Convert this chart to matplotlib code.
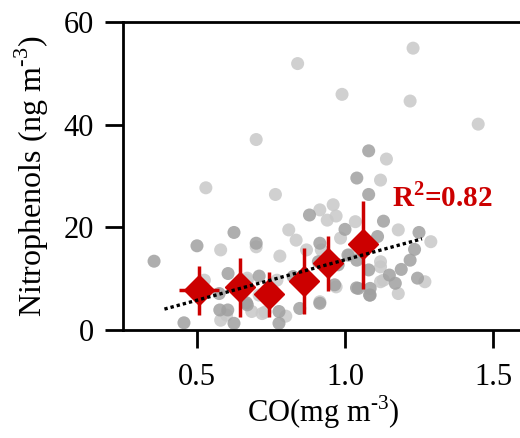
import numpy as np
import matplotlib
matplotlib.use("Agg")
import matplotlib.pyplot as plt

plt.rcParams['font.family'] = ['Liberation Serif', 'DejaVu Serif']
plt.rcParams['mathtext.fontset'] = 'custom'
plt.rcParams['mathtext.rm'] = 'Liberation Serif'
plt.rcParams['mathtext.bf'] = 'Liberation Serif:bold'

# individual samples, light gray group
light_x = [1.23, 0.84, 0.99, 1.22, 1.45, 0.70, 1.14, 1.12, 0.53, 0.765,
           0.915, 0.96, 0.94, 0.97, 1.035, 1.18, 1.29, 0.81, 0.835, 0.70,
           0.58, 0.78, 0.985, 1.12, 1.27, 1.12, 1.18, 1.015, 0.92, 0.87,
           0.77, 0.67, 0.525, 0.60, 0.58, 0.685, 0.72, 0.80, 0.71, 0.97,
           0.915, 1.13, 1.12, 0.73, 0.67]
light_y = [54.9, 51.9, 45.9, 44.6, 40.1, 37.1, 33.3, 29.2, 27.7, 26.4,
           23.4, 24.4, 21.4, 22.2, 21.1, 19.5, 17.2, 19.5, 17.5, 16.2,
           15.6, 14.4, 17.9, 12.3, 9.4, 9.4, 7.1, 14.6, 15.6, 15.6,
           9.7, 9.7, 9.7, 2.9, 1.9, 3.6, 3.2, 2.7, 6.8, 8.4,
           5.5, 9.7, 13.3, 3.5, 10.1]

# individual samples, dark gray group
dark_x = [1.08, 1.04, 1.08, 0.88, 1.13, 1.0, 1.25, 0.625, 0.70, 0.50,
          0.355, 1.11, 1.235, 1.22, 1.19, 1.15, 1.17, 1.245, 1.085, 1.085,
          1.045, 1.08, 1.04, 0.915, 0.825, 0.915, 0.847, 0.965, 0.91, 0.71,
          0.605, 0.575, 0.67, 0.577, 0.625, 0.456, 0.777, 0.777, 0.75, 0.604,
          0.667, 0.977, 1.01, 1.039, 1.083]
dark_y = [34.9, 29.6, 26.4, 22.4, 21.2, 19.6, 19.0, 19.0, 16.9, 16.4,
          13.4, 18.2, 15.7, 13.6, 11.8, 10.7, 9.1, 10.1, 8.1, 6.8,
          8.1, 11.7, 13.6, 16.9, 10.4, 5.2, 4.2, 8.8, 13.3, 10.5,
          11.0, 7.1, 4.9, 3.9, 1.3, 1.4, 3.6, 1.3, 7.8, 3.9,
          5.3, 12.7, 14.6, 8.2, 6.8]

# binned means with error bars
bin_x = [0.506, 0.644, 0.743, 0.861, 0.944, 1.062]
bin_y = [7.8, 8.4, 7.0, 9.5, 13.1, 16.7]
bin_lo = [2.9, 2.6, 2.5, 3.1, 7.6, 7.9]
bin_hi = [12.5, 14.1, 11.2, 15.9, 18.3, 25.1]
bin_xerr = [0.068, 0.03, 0.03, 0.03, 0.03, 0.03]
fit_range = [0.39, 1.26]
r2_text = r'R$^{\mathbf{2}}$=0.82'

red = '#cc0000'

fig = plt.figure(figsize=(5.2, 4.38), dpi=100)
ax = fig.add_axes([0.2365, 0.2466, 0.7685, 0.7032])

ax.scatter(light_x, light_y, s=88, color='#c8c8c8', alpha=0.85, edgecolors='none', zorder=2)
ax.scatter(dark_x, dark_y, s=88, color='#a0a0a0', alpha=0.85, edgecolors='none', zorder=2)

yerr = [np.array(bin_y) - np.array(bin_lo), np.array(bin_hi) - np.array(bin_y)]
ax.errorbar(bin_x, bin_y, yerr=yerr, xerr=bin_xerr, fmt='D', color=red, ms=15,
            elinewidth=2.5, capsize=0, mec=red, zorder=3)

# linear fit through the bin means
k, b = np.polyfit(bin_x, bin_y, 1)
xf = np.linspace(fit_range[0], fit_range[1], 50)
ax.plot(xf, k * xf + b, ls=(0, (1.0, 0.9)), color='black', lw=2.4, zorder=4)

ax.text(1.16, 25.9, r2_text, color=red, fontsize=21, fontweight='bold',
        ha='left', va='center')

ax.set_xlim(0.25, 1.6)
ax.set_ylim(0, 60)
ax.set_xticks([0.5, 1.0, 1.5])
ax.set_xticklabels(['0.5', '1.0', '1.5'])
ax.set_yticks([0, 20, 40, 60])

for s in ax.spines.values():
    s.set_linewidth(2)
ax.tick_params(direction='out', length=13, width=2, labelsize=22)
ax.tick_params(axis='x', pad=11)
ax.tick_params(axis='y', pad=8)

ax.set_xlabel(r'CO(mg m$^{\text{-}3}$)', fontsize=22, labelpad=1)
ax.set_ylabel(r'Nitrophenols (ng m$^{\text{-}3}$)', fontsize=23, labelpad=9)

fig.savefig('out.png', dpi=100)
